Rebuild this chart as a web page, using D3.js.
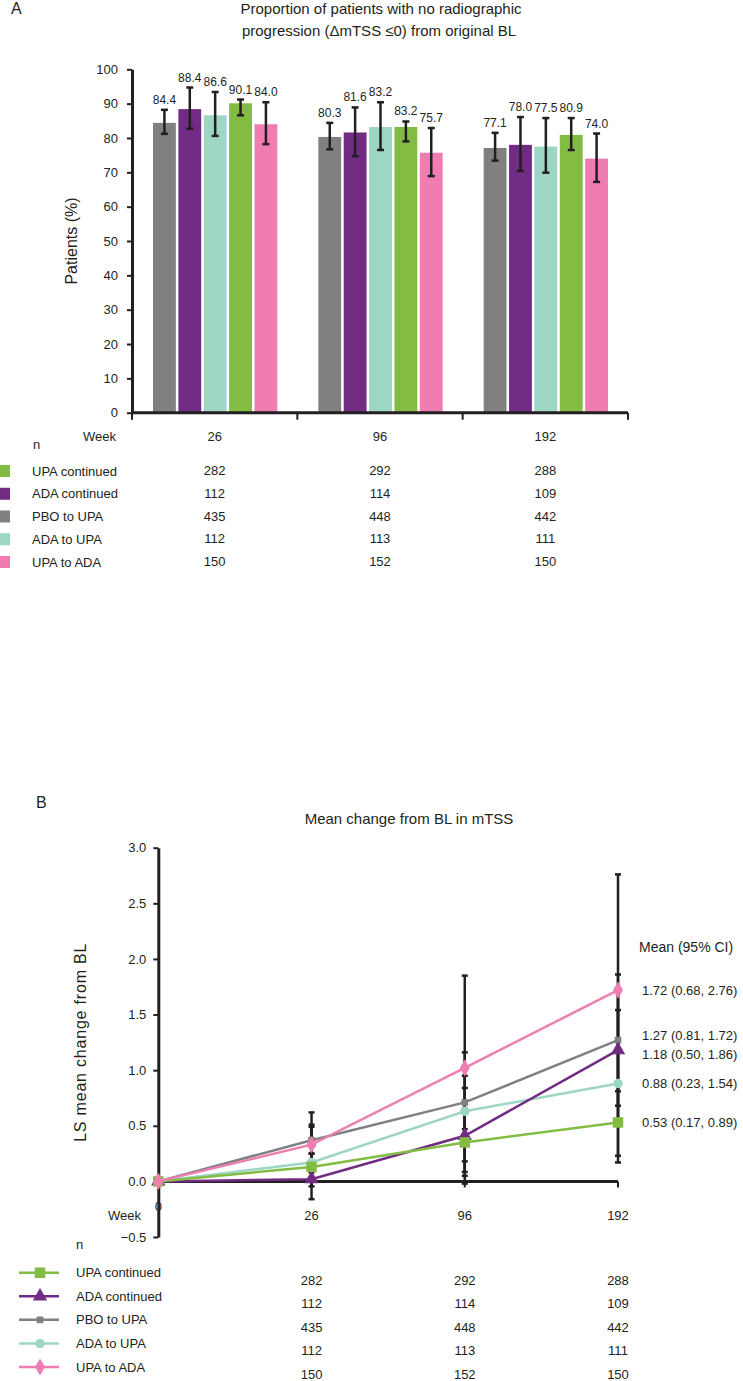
<!DOCTYPE html>
<html>
<head>
<meta charset="utf-8">
<script src="https://cdn.jsdelivr.net/npm/d3@7"></script>
<style>
  body { margin: 0; background: #fff; }
  svg { display: block; font-family: "Liberation Sans", Arial, sans-serif; fill: #231f20; }
  .axis path, .axis line { stroke: #231f20; }
  .axis text { font-size: 13px; fill: #231f20; }
</style>
</head>
<body>
<div id="chart"></div>
<script>
// ---- panel A data ----
const weeksA = ['26', '96', '192'];
const barSeries = ['PBO to UPA', 'ADA continued', 'ADA to UPA', 'UPA continued', 'UPA to ADA'];
const barValues = [[84.4, 80.3, 77.1], [88.4, 81.6, 78.0], [86.6, 83.2, 77.5], [90.1, 83.2, 80.9], [84.0, 75.7, 74.0]];
const barLow = [[81.2, 76.7, 73.4], [82.7, 74.7, 70.4], [80.6, 76.5, 69.9], [86.6, 79.0, 76.5], [78.2, 68.9, 67.2]];
const barHigh = [[88.2, 84.4, 81.5], [94.7, 88.9, 86.1], [93.4, 90.4, 85.8], [91.2, 84.8, 85.8], [90.4, 82.9, 81.3]];
const yTicksA = [0, 10, 20, 30, 40, 50, 60, 70, 80, 90, 100];

// ---- shared table / legend ----
const tableSeries = ['UPA continued', 'ADA continued', 'PBO to UPA', 'ADA to UPA', 'UPA to ADA'];
const tableN = [[282, 292, 288], [112, 114, 109], [435, 448, 442], [112, 113, 111], [150, 152, 150]];

// ---- panel B data ----
const weeksB = ['0', '26', '96', '192'];
const lineSeries = ['UPA continued', 'ADA continued', 'PBO to UPA', 'ADA to UPA', 'UPA to ADA'];
const lineMean = [[0, 0.13, 0.35, 0.53], [0, 0.02, 0.41, 1.18], [0, 0.37, 0.71, 1.27], [0, 0.17, 0.63, 0.88], [0, 0.33, 1.02, 1.72]];
const lineLow = [[null, 0.01, 0.05, 0.17], [null, -0.045, -0.02, 0.50], [null, 0.25, 0.47, 0.81], [null, -0.16, 0.085, 0.23], [null, 0.04, 0.18, 0.68]];
const lineHigh = [[null, 0.25, 0.655, 0.89], [null, 0.08, 0.84, 1.86], [null, 0.49, 0.95, 1.72], [null, 0.51, 1.16, 1.54], [null, 0.62, 1.85, 2.76]];
const yTicksB = [-0.5, 0, 0.5, 1.0, 1.5, 2.0, 2.5, 3.0];

const colors = {
  'UPA continued': '#82bc42',
  'ADA continued': '#712b83',
  'PBO to UPA': '#808080',
  'ADA to UPA': '#9dd6c5',
  'UPA to ADA': '#f07db1'
};
const symbols = {
  'UPA continued': d3.symbol().type(d3.symbolSquare).size(110),
  'ADA continued': d3.symbol().type(d3.symbolTriangle).size(90),
  'PBO to UPA': d3.symbol().type(d3.symbolSquare).size(45),
  'ADA to UPA': d3.symbol().type(d3.symbolCircle).size(70),
  'UPA to ADA': d3.symbol().type(d3.symbolDiamond).size(85)
};

const svg = d3.select('#chart').append('svg')
  .attr('width', 743)
  .attr('height', 1381);

// =================== Panel A ===================
const a = svg.append('g');

a.append('text').attr('x', 11).attr('y', 14).style('font-size', '16px').text('A');
a.append('text').attr('x', 381).attr('y', 13.5).attr('text-anchor', 'middle').style('font-size', '15px')
  .text('Proportion of patients with no radiographic');
a.append('text').attr('x', 379).attr('y', 35.5).attr('text-anchor', 'middle').style('font-size', '15px')
  .text('progression (\u0394mTSS \u22640) from original BL');

const xA = d3.scaleBand().domain(weeksA).range([132, 628]);
const xInner = d3.scaleBand().domain(barSeries).range([21, xA.bandwidth() - 20]).paddingInner(0.1);
const yA = d3.scaleLinear().domain([0, 100]).range([412.7, 69.3]);

a.append('g')
  .attr('class', 'axis')
  .attr('transform', 'translate(132,0)')
  .call(d3.axisLeft(yA).tickValues(yTicksA).tickSize(5).tickSizeOuter(0).tickPadding(9))
  .call(g => g.select('.domain').attr('stroke-width', 3))
  .call(g => g.selectAll('.tick line').attr('stroke-width', 2));

a.append('text')
  .attr('transform', `translate(77,${yA(50)}) rotate(-90)`)
  .attr('text-anchor', 'middle')
  .style('font-size', '16px')
  .text('Patients (%)');

// bars
barSeries.forEach((s, i) => {
  const g = a.append('g');
  weeksA.forEach((w, j) => {
    const x0 = xA(w) + xInner(s);
    g.append('rect')
      .attr('x', x0)
      .attr('y', yA(barValues[i][j]))
      .attr('width', xInner.bandwidth())
      .attr('height', yA(0) - yA(barValues[i][j]))
      .attr('fill', colors[s]);
    const cx = x0 + xInner.bandwidth() / 2;
    g.append('line').attr('x1', cx).attr('x2', cx)
      .attr('y1', yA(barLow[i][j])).attr('y2', yA(barHigh[i][j]))
      .attr('stroke', '#231f20').attr('stroke-width', 2.5);
    [barLow[i][j], barHigh[i][j]].forEach(v => {
      g.append('line').attr('x1', cx - 3.5).attr('x2', cx + 3.5)
        .attr('y1', yA(v)).attr('y2', yA(v))
        .attr('stroke', '#231f20').attr('stroke-width', 2.5);
    });
    g.append('text')
      .attr('x', cx)
      .attr('y', yA(barHigh[i][j]) - 6)
      .attr('text-anchor', 'middle')
      .style('font-size', '12px')
      .text(barValues[i][j].toFixed(1));
  });
});

// x axis A
a.append('line').attr('x1', 132).attr('x2', 628).attr('y1', yA(0)).attr('y2', yA(0))
  .attr('stroke', '#231f20').attr('stroke-width', 3);
weeksA.map(w => xA(w)).concat([xA.range()[1]]).forEach(x => {
  a.append('line').attr('x1', x).attr('x2', x).attr('y1', yA(0)).attr('y2', yA(0) + 7)
    .attr('stroke', '#231f20').attr('stroke-width', 2);
});

a.append('text').attr('x', 116).attr('y', 441).attr('text-anchor', 'end').style('font-size', '13px').text('Week');
weeksA.forEach(w => {
  a.append('text').attr('x', xA(w) + xA.bandwidth() / 2).attr('y', 441)
    .attr('text-anchor', 'middle').style('font-size', '13px').text(w);
});
a.append('text').attr('x', 33).attr('y', 449).style('font-size', '13px').text('n');

const rowA = d3.scalePoint().domain(tableSeries).range([471, 562]);
tableSeries.forEach((s, i) => {
  a.append('rect').attr('x', 0).attr('y', rowA(s) - 6).attr('width', 10).attr('height', 12).attr('fill', colors[s]);
  a.append('text').attr('x', 32).attr('y', rowA(s) + 4.5).style('font-size', '13px').text(s);
  weeksA.forEach((w, j) => {
    a.append('text').attr('x', xA(w) + xA.bandwidth() / 2).attr('y', rowA(s) + 4)
      .attr('text-anchor', 'middle').style('font-size', '13px').text(tableN[i][j]);
  });
});

// =================== Panel B ===================
const b = svg.append('g');
b.append('text').attr('x', 36).attr('y', 808).style('font-size', '16px').text('B');
b.append('text').attr('x', 409).attr('y', 824).attr('text-anchor', 'middle').style('font-size', '15px')
  .text('Mean change from BL in mTSS');

const xB = d3.scalePoint().domain(weeksB).range([158.3, 618]);
const yB = d3.scaleLinear().domain([-0.5, 3.0]).range([1237, 847.7]);

b.append('g')
  .attr('class', 'axis')
  .attr('transform', 'translate(158.3,0)')
  .call(d3.axisLeft(yB).tickValues(yTicksB).tickSize(5).tickSizeOuter(0).tickPadding(7).tickFormat(d3.format('.1f')))
  .call(g => g.select('.domain').attr('stroke-width', 3))
  .call(g => g.selectAll('.tick line').attr('stroke-width', 2));

b.append('text')
  .attr('transform', `translate(86,${yB(1.25)}) rotate(-90)`)
  .attr('text-anchor', 'middle')
  .style('font-size', '16px')
  .style('letter-spacing', '0.8px')
  .text('LS mean change from BL');

// x axis B
b.append('line').attr('x1', xB('0')).attr('x2', xB('192')).attr('y1', yB(0)).attr('y2', yB(0))
  .attr('stroke', '#231f20').attr('stroke-width', 3);
weeksB.slice(1).forEach(w => {
  b.append('line').attr('x1', xB(w)).attr('x2', xB(w)).attr('y1', yB(0)).attr('y2', yB(0) + 6)
    .attr('stroke', '#231f20').attr('stroke-width', 2);
});

// error bars
lineSeries.forEach((s, i) => {
  weeksB.forEach((w, j) => {
    if (lineLow[i][j] === null) return;
    const cx = xB(w);
    b.append('line').attr('x1', cx).attr('x2', cx)
      .attr('y1', yB(lineLow[i][j])).attr('y2', yB(lineHigh[i][j]))
      .attr('stroke', '#231f20').attr('stroke-width', 2.5);
    [lineLow[i][j], lineHigh[i][j]].forEach(v => {
      b.append('line').attr('x1', cx - 3).attr('x2', cx + 3)
        .attr('y1', yB(v)).attr('y2', yB(v))
        .attr('stroke', '#231f20').attr('stroke-width', 2.5);
    });
  });
});

const line = d3.line().x((d, j) => xB(weeksB[j])).y(d => yB(d));
const drawOrder = ['PBO to UPA', 'ADA to UPA', 'ADA continued', 'UPA continued', 'UPA to ADA'];
drawOrder.forEach(s => {
  const i = lineSeries.indexOf(s);
  b.append('path').datum(lineMean[i])
    .attr('d', line).attr('fill', 'none')
    .attr('stroke', colors[s]).attr('stroke-width', 2.5);
  lineMean[i].forEach((v, j) => {
    b.append('path').attr('d', symbols[s]())
      .attr('transform', `translate(${xB(weeksB[j])},${yB(v)})`)
      .attr('fill', colors[s]);
  });
});

// week labels B
b.append('text').attr('x', 141).attr('y', 1220).attr('text-anchor', 'end').style('font-size', '13px').text('Week');
weeksB.forEach(w => {
  b.append('text').attr('x', xB(w)).attr('y', w === '0' ? 1210.5 : 1220)
    .attr('text-anchor', 'middle').style('font-size', '13px').text(w);
});

// end labels with simple collision resolution
b.append('text').attr('x', 639).attr('y', 951.5).style('font-size', '14px').text('Mean (95% CI)');
const last = weeksB.length - 1;
const endLabels = lineSeries.map((s, i) => ({
  s,
  y: yB(lineMean[i][last]),
  text: `${lineMean[i][last].toFixed(2)} (${lineLow[i][last].toFixed(2)}, ${lineHigh[i][last].toFixed(2)})`
})).sort((p, q) => p.y - q.y);
for (let k = 1; k < endLabels.length; k++) {
  const gap = endLabels[k].y - endLabels[k - 1].y;
  if (gap < 19) {
    const shift = (19 - gap) / 2;
    endLabels[k - 1].y -= shift;
    endLabels[k].y += shift;
  }
}
endLabels.forEach(l => {
  b.append('text').attr('x', 642).attr('y', l.y + 4.5).style('font-size', '13px').text(l.text);
});

// legend + n table B
b.append('text').attr('x', 76).attr('y', 1249).style('font-size', '13px').text('n');
const rowB = d3.scalePoint().domain(tableSeries).range([1272.7, 1367]);
const rowNB = d3.scalePoint().domain(tableSeries).range([1280, 1374]);
tableSeries.forEach((s, i) => {
  const ly = rowB(s);
  b.append('line').attr('x1', 19).attr('x2', 59).attr('y1', ly).attr('y2', ly)
    .attr('stroke', colors[s]).attr('stroke-width', 2.5);
  b.append('path').attr('d', symbols[s]())
    .attr('transform', `translate(40,${ly})`).attr('fill', colors[s]);
  b.append('text').attr('x', 76).attr('y', ly + 4.5).style('font-size', '13px').text(s);
  weeksB.slice(1).forEach((w, j) => {
    b.append('text').attr('x', xB(w)).attr('y', rowNB(s) + 4.5)
      .attr('text-anchor', 'middle').style('font-size', '13px').text(tableN[i][j]);
  });
});
</script>
</body>
</html>
